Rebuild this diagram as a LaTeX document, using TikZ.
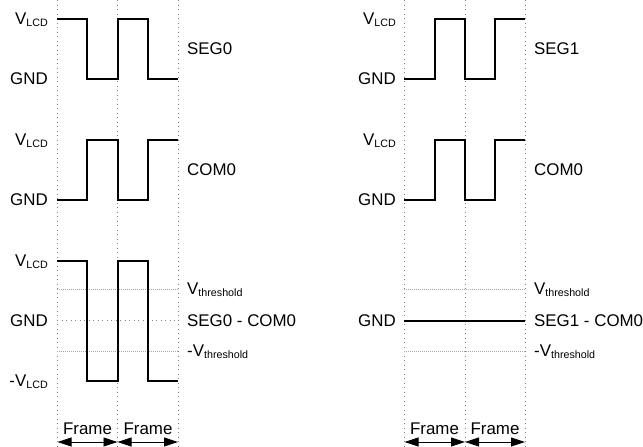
\documentclass[tikz,border=0pt]{standalone}
\usepackage{fontspec}
\setmainfont{Liberation Sans}
\usetikzlibrary{arrows.meta}
\newcommand{\lcdsub}[1]{\raisebox{-2.3pt}{\fontsize{10.7}{12}\selectfont #1}}
\begin{document}
\begin{tikzpicture}[x=1pt,y=-1pt,
  lbl/.style={inner sep=0pt,font=\fontsize{16.9}{19}\selectfont},
  grid/.style={draw=black!50,line width=0.8pt,dash pattern=on 0.9pt off 3.6pt},
  thr/.style={draw=black!35,line width=0.7pt,dash pattern=on 0.9pt off 1.1pt},
  wave/.style={draw=black,line width=2pt,line join=miter},
  span/.style={draw=black,line width=0.9pt,{Triangle[length=14pt,width=9pt]}-{Triangle[length=14pt,width=9pt]}}]
\useasboundingbox (0,0) rectangle (643,447);
% vertical grid
\foreach \x in {57,117.5,178,404,465,525}{\draw[grid] (\x,0) -- (\x,447);}
% threshold / GND dotted lines
\draw[thr] (57,289) -- (178,289);
\draw[thr] (57,351) -- (178,351);
\draw[grid] (57,320.7) -- (178,320.7);
\draw[thr] (404,289) -- (525,289);
\draw[thr] (404,351) -- (525,351);
% left waveforms
\draw[wave] (57,19) -- (87,19) -- (87,79) -- (117.5,79) -- (117.5,19) -- (148,19) -- (148,79) -- (178,79);
\draw[wave] (57,200) -- (87,200) -- (87,140) -- (117.5,140) -- (117.5,200) -- (148,200) -- (148,140) -- (178,140);
\draw[wave] (57,260.7) -- (87,260.7) -- (87,381) -- (117.5,381) -- (117.5,260.7) -- (148,260.7) -- (148,381) -- (178,381);
% right waveforms
\draw[wave] (404,79) -- (435,79) -- (435,19) -- (465,19) -- (465,79) -- (495,79) -- (495,19) -- (525,19);
\draw[wave] (404,200) -- (435,200) -- (435,140) -- (465,140) -- (465,200) -- (495,200) -- (495,140) -- (525,140);
\draw[wave] (404,320.7) -- (525,320.7);
% left level labels
\node[lbl,anchor=base east] (lv1) at (48,24.5) {V\lcdsub{LCD}};
\node[lbl,anchor=base east] (lg1) at (48,84.5) {GND};
\node[lbl,anchor=base east] (lv2) at (48,145.5) {V\lcdsub{LCD}};
\node[lbl,anchor=base east] (lg2) at (48,205.5) {GND};
\node[lbl,anchor=base east] (lv3) at (48,266) {V\lcdsub{LCD}};
\node[lbl,anchor=base east] (lg3) at (48,326.3) {GND};
\node[lbl,anchor=base east] (lm3) at (48,386.5) {-V\lcdsub{LCD}};
% right level labels
\node[lbl,anchor=base east] (rv1) at (396,24.5) {V\lcdsub{LCD}};
\node[lbl,anchor=base east] (rg1) at (396,84.5) {GND};
\node[lbl,anchor=base east] (rv2) at (396,145.5) {V\lcdsub{LCD}};
\node[lbl,anchor=base east] (rg2) at (396,205.5) {GND};
\node[lbl,anchor=base east] (rg3) at (396,326.3) {GND};
% signal names
\node[lbl,anchor=base west] (s0) at (187,54.5) {SEG0};
\node[lbl,anchor=base west] (c0) at (187,175.5) {COM0};
\node[lbl,anchor=base west] (vt) at (187,294) {V\lcdsub{threshold}};
\node[lbl,anchor=base west] (d0) at (187,326.3) {SEG0 - COM0};
\node[lbl,anchor=base west] (mvt) at (187,356) {-V\lcdsub{threshold}};
\node[lbl,anchor=base west] (s1) at (534,54.5) {SEG1};
\node[lbl,anchor=base west] (c1) at (534,175.5) {COM0};
\node[lbl,anchor=base west] (rvt) at (534,294) {V\lcdsub{threshold}};
\node[lbl,anchor=base west] (d1) at (534,326.3) {SEG1 - COM0};
\node[lbl,anchor=base west] (rmvt) at (534,356) {-V\lcdsub{threshold}};
% frames
\node[lbl,anchor=base] (lf1) at (87.5,434) {Frame};
\node[lbl,anchor=base] (lf2) at (148,434) {Frame};
\node[lbl,anchor=base] (rf1) at (434.5,434) {Frame};
\node[lbl,anchor=base] (rf2) at (495,434) {Frame};
\coordinate (la) at (57.5,442);
\coordinate (lb) at (117.5,442);
\coordinate (lc) at (178,442);
\coordinate (ra) at (404.5,442);
\coordinate (rb) at (465,442);
\coordinate (rc) at (525,442);
\draw[span] (la) -- (lb);
\draw[span] (lb) -- (lc);
\draw[span] (ra) -- (rb);
\draw[span] (rb) -- (rc);
\end{tikzpicture}
\end{document}
